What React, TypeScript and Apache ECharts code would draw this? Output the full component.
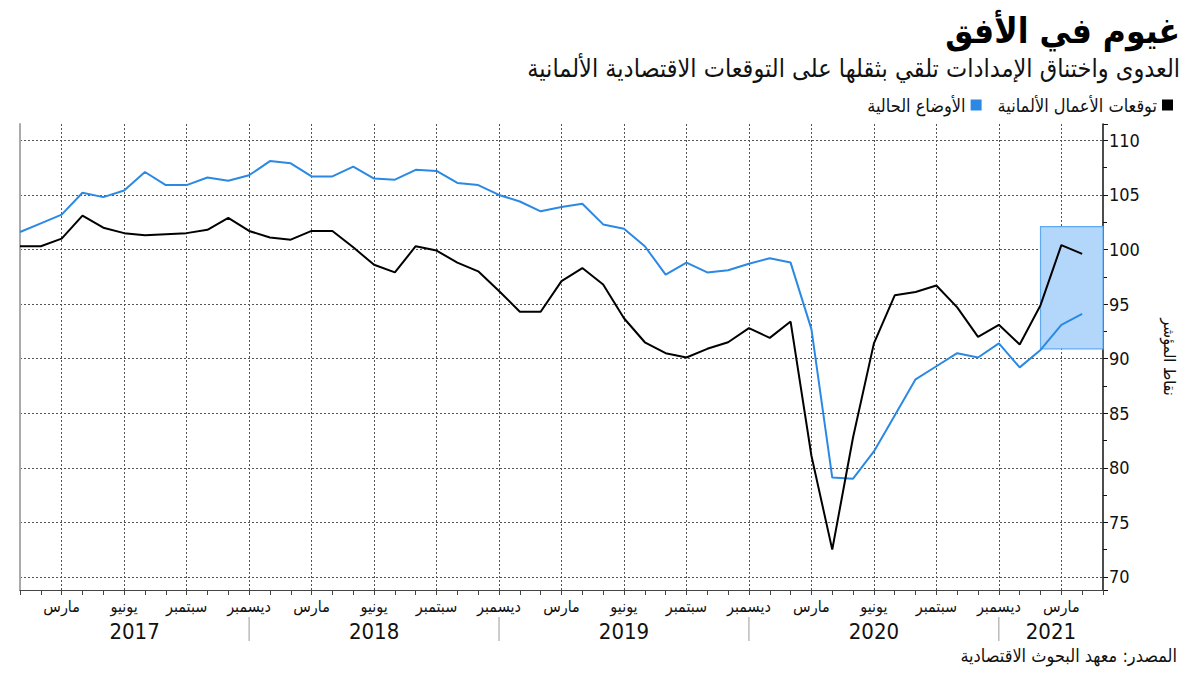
import React, { useEffect, useRef } from "react";
import * as echarts from "echarts";

// ---------- data ----------
const categories = [
  "2017-01","2017-02","2017-03","2017-04","2017-05","2017-06","2017-07","2017-08","2017-09","2017-10","2017-11","2017-12",
  "2018-01","2018-02","2018-03","2018-04","2018-05","2018-06","2018-07","2018-08","2018-09","2018-10","2018-11","2018-12",
  "2019-01","2019-02","2019-03","2019-04","2019-05","2019-06","2019-07","2019-08","2019-09","2019-10","2019-11","2019-12",
  "2020-01","2020-02","2020-03","2020-04","2020-05","2020-06","2020-07","2020-08","2020-09","2020-10","2020-11","2020-12",
  "2021-01","2021-02","2021-03","2021-04","2021-05",
];

const monthNames: Record<string, string> = {
  "03": "مارس",
  "06": "يونيو",
  "09": "سبتمبر",
  "12": "ديسمبر",
};

const years = ["2017", "2018", "2019", "2020", "2021"];

const businessExpectations = [
  100.3, 100.3, 101.0, 103.1, 102.0, 101.5, 101.3, 101.4, 101.5, 101.8, 102.9, 101.7,
  101.1, 100.9, 101.7, 101.7, 100.2, 98.6, 97.9, 100.3, 99.9, 98.8, 98.0, 96.2,
  94.3, 94.3, 97.1, 98.3, 96.8, 93.7, 91.5, 90.5, 90.1, 90.9, 91.5, 92.8,
  91.9, 93.4, 81.1, 72.5, 82.8, 91.4, 95.8, 96.1, 96.7, 94.7, 92.0, 93.1,
  91.3, 94.9, 100.4, 99.6,
];

const currentSituation = [
  101.6, 102.4, 103.2, 105.2, 104.8, 105.4, 107.1, 105.9, 105.9, 106.6, 106.3, 106.8,
  108.1, 107.9, 106.7, 106.7, 107.6, 106.5, 106.4, 107.3, 107.2, 106.1, 105.9, 105.0,
  104.4, 103.5, 103.9, 104.2, 102.3, 101.9, 100.3, 97.7, 98.8, 97.9, 98.1, 98.7,
  99.2, 98.8, 92.7, 79.1, 79.0, 81.5, 84.8, 88.1, 89.3, 90.5, 90.1, 91.4,
  89.2, 90.8, 93.1, 94.1,
];

const highlightRange = ["2021-02", "2021-05"];
const highlightValues = [90.9, 102.1];

const seriesNames = ["توقعات الأعمال الألمانية", "الأوضاع الحالية"];
const titleText = "غيوم في الأفق";
const subtitleText = "العدوى واختناق الإمدادات تلقي بثقلها على التوقعات الاقتصادية الألمانية";
const sourceText = "المصدر: معهد البحوث الاقتصادية";
const yAxisName = "نقاط المؤشر";

const FONT = "'DejaVu Sans Condensed', 'DejaVu Sans', sans-serif";

const isQuarterMonth = (cat: string) => monthNames[cat.slice(5)] !== undefined;

export default function App() {
  const ref = useRef<HTMLDivElement>(null);

  useEffect(() => {
    document.body.style.margin = "0";
    if (!ref.current) return;
    const chart = echarts.init(ref.current, undefined, { renderer: "svg" });

    const dotted = { color: "#555", width: 1, type: [2, 2] as number[] };

    chart.setOption({
      animation: false,
      textStyle: { fontFamily: FONT },
      grid: { left: 20, right: 97, top: 124, bottom: 85 },
      legend: {
        right: 22,
        top: 91,
        align: "right",
        icon: "rect",
        itemWidth: 11,
        itemHeight: 11,
        itemGap: 16,
        data: [seriesNames[1], seriesNames[0]],
        textStyle: { fontFamily: FONT, fontSize: 18, color: "#111" },
      },
      xAxis: {
        type: "category",
        data: categories,
        boundaryGap: false,
        axisLine: { show: true, lineStyle: { color: "#444", width: 1 } },
        axisTick: { show: true, interval: 0, length: 5, lineStyle: { color: "#444" } },
        axisLabel: {
          interval: (_i: number, v: string) => isQuarterMonth(v),
          formatter: (v: string) => monthNames[v.slice(5)] || "",
          fontFamily: FONT,
          fontSize: 16,
          color: "#111",
          margin: 8,
        },
        splitLine: {
          show: true,
          interval: (_i: number, v: string) => isQuarterMonth(v),
          lineStyle: dotted,
        },
      },
      yAxis: [
        {
          type: "value",
          position: "right",
          min: 68.8,
          max: 111.5,
          minInterval: 5,
          maxInterval: 5,
          name: yAxisName,
          nameLocation: "middle",
          nameGap: 58,
          nameRotate: -90,
          nameTextStyle: { fontFamily: FONT, fontSize: 16, color: "#111" },
          axisLine: { show: true, lineStyle: { color: "#111", width: 1.5 } },
          axisTick: { show: true, length: 5, lineStyle: { color: "#111" } },
          minorTick: { show: true, splitNumber: 2, length: 4, lineStyle: { color: "#111" } },
          axisLabel: {
            showMinLabel: false,
            showMaxLabel: false,
            fontFamily: FONT,
            fontSize: 18,
            color: "#111",
            margin: 6,
          },
          splitLine: { show: true, showMinLine: false, showMaxLine: false, lineStyle: dotted },
        },
        {
          type: "value",
          position: "left",
          min: 68.8,
          max: 111.5,
          axisLine: { show: true, lineStyle: { color: "#aaa", width: 2 } },
          axisTick: { show: false },
          axisLabel: { show: false },
          splitLine: { show: false },
        },
      ],
      series: [
        {
          type: "line",
          name: "highlight",
          data: [],
          z: 1,
          markArea: {
            silent: true,
            itemStyle: { color: "#b3d7fb", borderColor: "#5fa9f0", borderWidth: 1.2 },
            data: [[
              { xAxis: highlightRange[0], yAxis: highlightValues[1] },
              { xAxis: highlightRange[1], yAxis: highlightValues[0] },
            ]],
          },
        },
        {
          type: "line",
          name: seriesNames[1],
          data: currentSituation,
          z: 3,
          showSymbol: false,
          symbol: "none",
          itemStyle: { color: "#2b89e3" },
          lineStyle: { color: "#2b89e3", width: 2 },
        },
        {
          type: "line",
          name: seriesNames[0],
          data: businessExpectations,
          z: 4,
          showSymbol: false,
          symbol: "none",
          itemStyle: { color: "#000" },
          lineStyle: { color: "#000", width: 2 },
        },
      ],
    });

    // Year labels & separators positioned through the axis scale
    const px = (cat: string) => chart.convertToPixel({ xAxisIndex: 0 }, cat) as number;
    const leftX = px(categories[0]);
    const rightX = px(categories[categories.length - 1]);
    const baseY = 675 - 85;
    const graphics: any[] = [
      {
        type: "text",
        x: 1180,
        y: 31,
        style: { text: titleText, fill: "#000", font: `bold 35px ${FONT}`, textAlign: "right", textVerticalAlign: "middle" },
      },
      {
        type: "text",
        x: 1180,
        y: 68,
        style: { text: subtitleText, fill: "#111", font: `25px ${FONT}`, textAlign: "right", textVerticalAlign: "middle" },
      },
      {
        type: "text",
        x: 1177,
        y: 655,
        style: { text: sourceText, fill: "#111", font: `18px ${FONT}`, textAlign: "right", textVerticalAlign: "middle" },
      },
    ];
    years.forEach((yr, k) => {
      const startX = k === 0 ? leftX : px(`${years[k - 1]}-12`);
      const endCat = `${yr}-12`;
      const endX = categories.includes(endCat) ? px(endCat) : rightX;
      if (categories.includes(endCat)) {
        graphics.push({
          type: "line",
          shape: { x1: endX, y1: baseY + 27, x2: endX, y2: baseY + 51 },
          style: { stroke: "#999", lineWidth: 1 },
        });
      }
      graphics.push({
        type: "text",
        x: (startX + endX) / 2,
        y: baseY + 41,
        style: { text: yr, fill: "#111", font: `22px ${FONT}`, textAlign: "center", textVerticalAlign: "middle" },
      });
    });
    chart.setOption({ graphic: graphics });

    return () => chart.dispose();
  }, []);

  return <div ref={ref} style={{ width: 1200, height: 675 }} />;
}
